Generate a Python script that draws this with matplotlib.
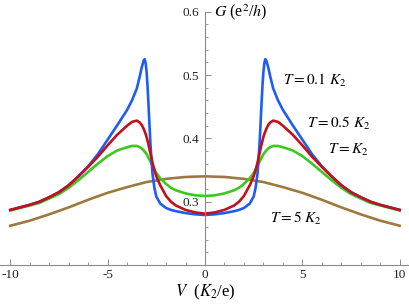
import matplotlib
matplotlib.use("Agg")
from matplotlib import pyplot as plt
from matplotlib.ticker import MultipleLocator, FixedLocator
import numpy as np

plt.rcParams['font.family'] = ['Liberation Serif', 'DejaVu Serif']
plt.rcParams['mathtext.fontset'] = 'stix'
plt.rcParams['axes.unicode_minus'] = False

# bias voltage V (K2/e)
V = [-10, -9.5, -9, -8.5, -8, -7.5, -7, -6.5, -6, -5.5, -5, -4.5, -4, -3.75,
     -3.5, -3.35, -3.25, -3.15, -3.1, -3.05, -3.0, -2.95, -2.9, -2.85, -2.8,
     -2.7, -2.6, -2.5, -2.3, -2.0, -1.75, -1.5, -1.0, -0.5, 0,
     0.5, 1.0, 1.5, 1.75, 2.0, 2.3, 2.5, 2.6, 2.7, 2.8, 2.85, 2.9, 2.95, 3.0,
     3.05, 3.1, 3.15, 3.25, 3.35, 3.5, 3.75, 4, 4.5, 5, 5.5, 6, 6.5, 7, 7.5,
     8, 8.5, 9, 9.5, 10]

# G (e^2/h) for T = 0.1 K2
G_01 = [0.287, 0.291, 0.295, 0.300, 0.307, 0.315, 0.326, 0.340, 0.356, 0.375,
        0.398, 0.421, 0.445, 0.460, 0.479, 0.498, 0.512, 0.523, 0.525, 0.519,
        0.505, 0.482, 0.452, 0.420, 0.390, 0.345, 0.322, 0.308, 0.297, 0.290,
        0.287, 0.285, 0.282, 0.280, 0.279,
        0.280, 0.282, 0.285, 0.287, 0.290, 0.297, 0.308, 0.322, 0.345, 0.390,
        0.420, 0.452, 0.482, 0.505, 0.519, 0.525, 0.523, 0.512, 0.498, 0.479,
        0.460, 0.445, 0.421, 0.398, 0.375, 0.356, 0.340, 0.326, 0.315, 0.307,
        0.300, 0.295, 0.291, 0.287]

# T = 0.5 K2
G_05 = [0.287, 0.291, 0.295, 0.300, 0.307, 0.315, 0.326, 0.340, 0.355, 0.371,
        0.389, 0.406, 0.420, 0.426, 0.428, 0.425, 0.421, 0.415, 0.411, 0.407,
        0.402, 0.396, 0.390, 0.383, 0.376, 0.362, 0.350, 0.340, 0.326, 0.309,
        0.300, 0.294, 0.287, 0.283, 0.281,
        0.283, 0.287, 0.294, 0.300, 0.309, 0.326, 0.340, 0.350, 0.362, 0.376,
        0.383, 0.390, 0.396, 0.402, 0.407, 0.411, 0.415, 0.421, 0.425, 0.428,
        0.426, 0.420, 0.406, 0.389, 0.371, 0.355, 0.340, 0.326, 0.315, 0.307,
        0.300, 0.295, 0.291, 0.287]

# T = K2
G_1 = [0.286, 0.290, 0.294, 0.298, 0.305, 0.312, 0.322, 0.334, 0.347, 0.360,
       0.372, 0.381, 0.386, 0.388, 0.388, 0.386, 0.384, 0.381, 0.379, 0.377,
       0.375, 0.372, 0.369, 0.366, 0.363, 0.357, 0.351, 0.345, 0.337, 0.328,
       0.322, 0.318, 0.313, 0.310, 0.309,
       0.310, 0.313, 0.318, 0.322, 0.328, 0.337, 0.345, 0.351, 0.357, 0.363,
       0.366, 0.369, 0.372, 0.375, 0.377, 0.379, 0.381, 0.384, 0.386, 0.388,
       0.388, 0.386, 0.381, 0.372, 0.360, 0.347, 0.334, 0.322, 0.312, 0.305,
       0.298, 0.294, 0.290, 0.286]

# T = 5 K2 (broad curve, coarser grid)
V_5 = [-10, -9, -8, -7, -6, -5, -4, -3, -2, -1, 0, 1, 2, 3, 4, 5, 6, 7, 8, 9, 10]
G_5 = [0.262, 0.270, 0.280, 0.291, 0.303, 0.314, 0.323, 0.331, 0.336, 0.339,
       0.340, 0.339, 0.336, 0.331, 0.323, 0.314, 0.303, 0.291, 0.280, 0.270,
       0.262]

fig = plt.figure(figsize=(4.09, 3.06), dpi=100)
ax = fig.add_axes([0, 0, 1, 1])
ax.set_xlim(-10.53, 10.48)
ax.set_ylim(0.2 - 41 / 633, 0.6 + 11.7 / 633)

ax.plot(V_5, G_5, color='#9c7a3e', lw=1.9)
ax.plot(V, G_1, color='#3cc81e', lw=1.9)
ax.plot(V, G_01, color='#1f5cf5', lw=1.9)
ax.plot(V, G_05, color='#c4101c', lw=1.9)

# axes crossing at (0, 0.2) like Mathematica
ax.spines['right'].set_visible(False)
ax.spines['top'].set_visible(False)
ax.spines['left'].set_position(('data', 0))
ax.spines['bottom'].set_position(('data', 0.2))
ax.spines['left'].set_bounds(0.2, 0.6)
for s in ('left', 'bottom'):
    ax.spines[s].set_color('#8a8a8a')
    ax.spines[s].set_linewidth(0.8)

ax.xaxis.set_major_locator(FixedLocator([-10, -5, 0, 5, 10]))
ax.xaxis.set_minor_locator(MultipleLocator(1))
ax.yaxis.set_major_locator(FixedLocator([0.3, 0.4, 0.5, 0.6]))
ax.yaxis.set_minor_locator(FixedLocator(np.arange(0.22, 0.6, 0.02)))
ax.set_xticklabels(['-10', '-5', '0', '5', '10'])
ax.set_yticklabels(['0.3', '0.4', '0.5', '0.6'])
ax.tick_params(which='both', direction='in', color='#8a8a8a', labelsize=9.5,
               labelcolor='#222222')
ax.tick_params(which='major', length=4, width=0.7)
ax.tick_params(which='minor', length=2.2, width=0.6)
ax.tick_params(axis='x', pad=3)
ax.tick_params(axis='y', pad=4)

ax.text(0.45, 0.6, r'$G$ (e$^2$/$h$)', fontsize=11.5, va='center', ha='left')
ax.text(0, 0.2 - 27 / 633, r'$V$  ($K_2$/e)', fontsize=12, va='center',
        ha='center')

ax.text(4.0, 0.492, r'$T = 0.1\ K_2$', fontsize=11, va='center')
ax.text(5.24, 0.423, r'$T = 0.5\ K_2$', fontsize=11, va='center')
ax.text(6.32, 0.382, r'$T = K_2$', fontsize=11, va='center')
ax.text(3.34, 0.274, r'$T = 5\ K_2$', fontsize=11, va='center')

fig.savefig('out.png', dpi=100)
